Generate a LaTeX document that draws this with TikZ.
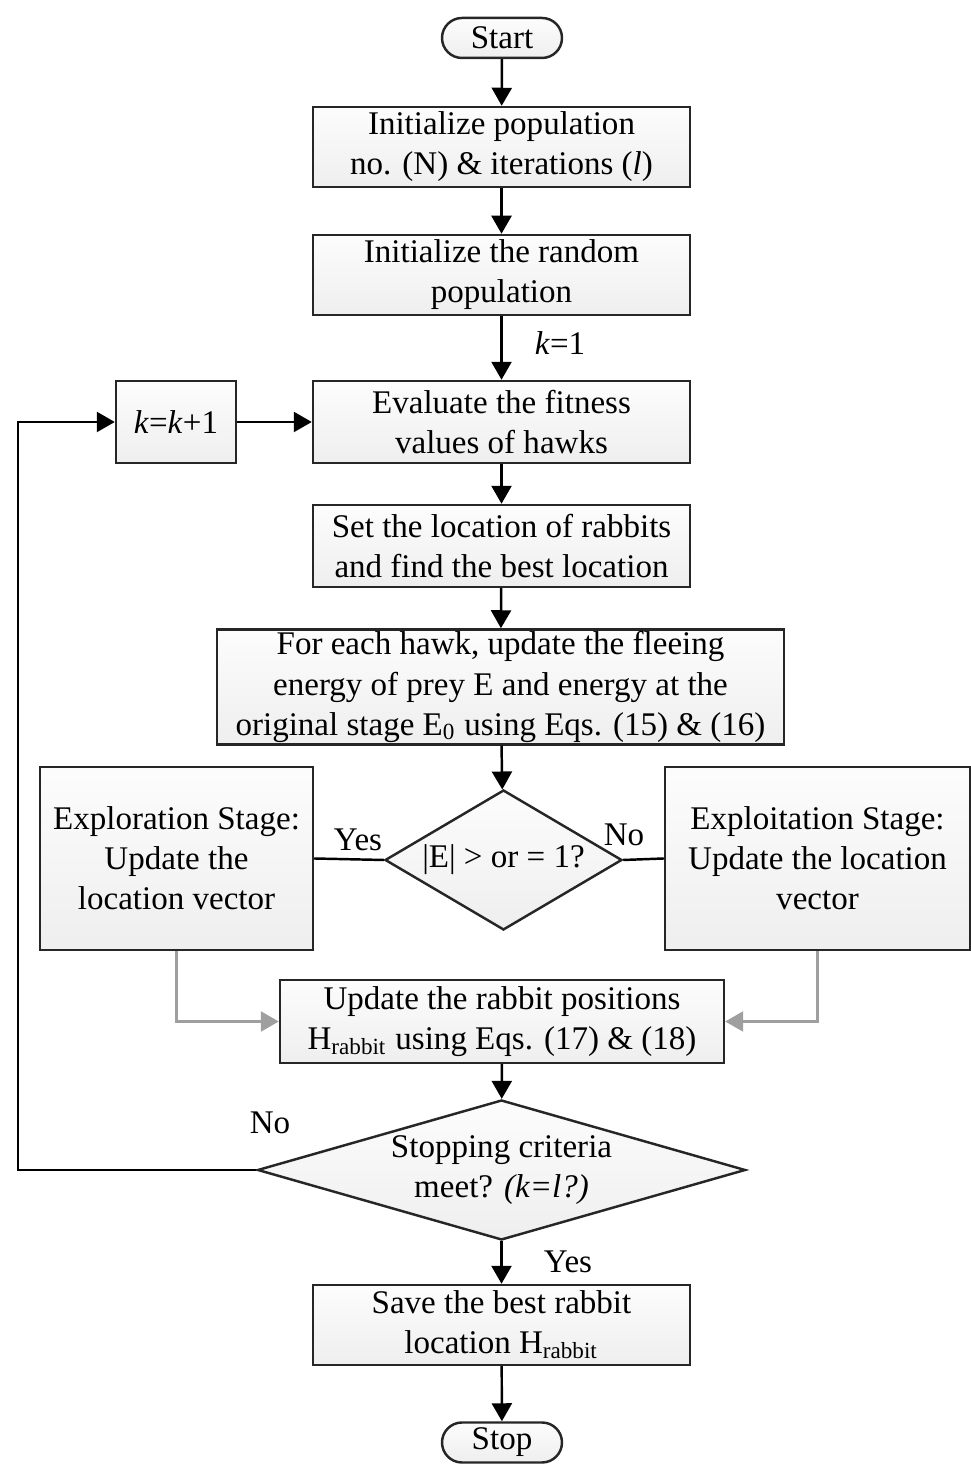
\documentclass[tikz,border=0pt]{standalone}
\usepackage{fontspec}
\setmainfont{Liberation Serif}
\usetikzlibrary{calc,positioning}
\usetikzlibrary{arrows.meta,shapes.geometric}

\tikzset{
	procbox/.style={draw=black!85,line width=0.7pt,top color=gray!2,bottom color=gray!13,align=center,inner sep=0pt},
	termbox/.style={procbox,rounded corners=2mm,minimum width=12mm,minimum height=4mm},
	decbox/.style={procbox,diamond,inner sep=-1mm},
	flow/.style={line width=0.7pt,-{Triangle[length=1.8mm,width=2mm]}},
	link/.style={line width=0.7pt},
	graylink/.style={line width=0.7pt,draw=gray!75,-{Triangle[length=1.8mm,width=2mm]}}
}

\begin{document}
\begin{tikzpicture}[font=\fontsize{9.4}{11.4}\selectfont]
				%\draw[color=gray,step=1mm, help lines,opacity=0.3] (0pt,0pt) grid (97.1mm,146.4mm); %help grids
				\useasboundingbox (0mm,0mm) rectangle (97.1mm,146.4mm);

				\node[termbox] (start) at (50.2mm,142.6mm) {Start};
				\node[procbox,minimum width=37.7mm,minimum height=8mm] (init) at (50.15mm,131.7mm) {Initialize population\\no. (N) \& iterations (\textit{l})};
				\node[procbox,minimum width=37.7mm,minimum height=8mm] (rand) at (50.15mm,118.9mm) {Initialize the random\\population};
				\node[procbox,minimum width=37.7mm,minimum height=8.2mm] (eval) at (50.15mm,104.2mm) {Evaluate the fitness\\values of hawks};
				\node[procbox,minimum width=12mm,minimum height=8.2mm] (incr) at (17.6mm,104.2mm) {\textit{k}=\textit{k}+1};
				\node[procbox,minimum width=37.7mm,minimum height=8.2mm] (rabb) at (50.15mm,91.8mm) {Set the location of rabbits\\and find the best location};
				\node[procbox,minimum width=56.7mm,minimum height=11.5mm] (energy) at (50.05mm,77.7mm) {For each hawk, update the fleeing\\energy of prey E and energy at the\\original stage E\textsubscript{0} using Eqs. (15) \& (16)};
				\node[decbox,aspect=1.7,minimum width=23.7mm,minimum height=14mm] (check) at (50.35mm,60.4mm) {|E| > or = 1?};
				\node[procbox,minimum width=27.3mm,minimum height=18.3mm] (explor) at (17.65mm,60.55mm) {Exploration Stage:\\Update the\\location vector};
				\node[procbox,minimum width=30.5mm,minimum height=18.3mm] (exploit) at (81.75mm,60.55mm) {Exploitation Stage:\\Update the location\\vector};
				\node[procbox,minimum width=44.4mm,minimum height=8.3mm] (update) at (50.2mm,44.25mm) {Update the rabbit positions\\H\textsubscript{rabbit} using Eqs. (17) \& (18)};
				\node[decbox,aspect=3.5,minimum width=48.8mm,minimum height=14mm] (stopq) at (50.15mm,29.4mm) {Stopping criteria\\meet? \textit{(k=l?)}};
				\node[procbox,minimum width=37.7mm,minimum height=8mm] (save) at (50.15mm,13.9mm) {Save the best rabbit\\location H\textsubscript{rabbit}};
				\node[termbox] (stop) at (50.2mm,2.15mm) {Stop};
				\coordinate (loop) at (1.8mm,29.4mm);

				\draw[flow] (start)--(init);
				\draw[flow] (init)--(rand);
				\draw[flow] (rand)--(eval);
				\node at (56mm,112.1mm) {\textit{k}=1};
				\draw[flow] (incr)--(eval);
				\draw[flow] (eval)--(rabb);
				\draw[flow] (rabb)--(energy);
				\draw[flow] (energy)--(check);

				\draw[link] (check.west)--(explor.east);
				\draw[link] (check.east)--(exploit.west);
				\node at (35.8mm,62.4mm) {Yes};
				\node at (62.4mm,62.9mm) {No};
				\draw[graylink] (explor.south)|-(update.west);
				\draw[graylink] (exploit.south)|-(update.east);

				\draw[flow] (update)--(stopq);
				\draw[flow] (stopq.west)--(loop)|-(incr.west);
				\node at (27mm,34.1mm) {No};
				\draw[flow] (stopq.south)--(save);
				\node at (56.8mm,20.2mm) {Yes};
				\draw[flow] (save)--(stop);
\end{tikzpicture}
\end{document}
